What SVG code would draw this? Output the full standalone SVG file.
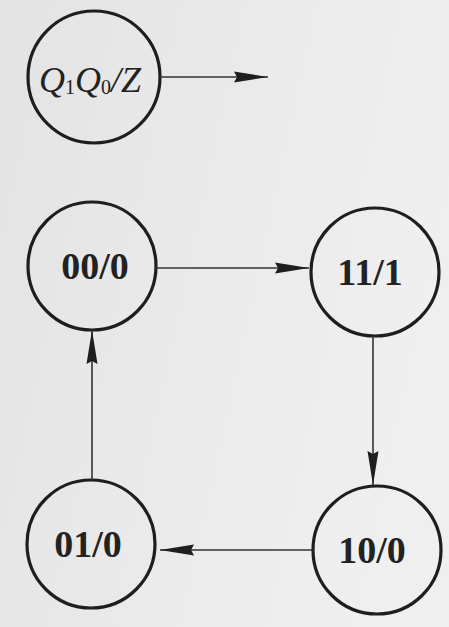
<svg xmlns="http://www.w3.org/2000/svg" width="449" height="627" viewBox="0 0 449 627">
<defs>
<linearGradient id="bg" x1="0" y1="0" x2="1" y2="0.3">
<stop offset="0" stop-color="#e3e3e3"/>
<stop offset="0.6" stop-color="#ebebeb"/>
<stop offset="1" stop-color="#efefef"/>
</linearGradient>
<marker id="arr" markerUnits="userSpaceOnUse" markerWidth="36" markerHeight="14" refX="34" refY="7" orient="auto">
<path d="M0,1.5 L34,7 L0,12.5 L3,7 Z" fill="#1e1e1e"/>
</marker>
<style>
.st{fill:none;stroke:#1e1e1e;stroke-width:3.2}
.lbl{font-family:"Liberation Serif","Times New Roman",serif;font-weight:bold;font-size:38px;fill:#222;text-anchor:middle}
.edge{stroke:#333;stroke-width:1.6;fill:none;marker-end:url(#arr)}
.leg{font-family:"Liberation Serif","Times New Roman",serif;font-style:italic;font-size:36px;fill:#222}
.sub{font-style:normal;font-size:20px}
</style>
</defs>
<rect x="0" y="0" width="449" height="627" fill="url(#bg)"/>
<g id="legend">
<circle class="st" cx="94" cy="77" r="66"/>
<text class="leg" x="39" y="92">Q<tspan class="sub" dy="2">1</tspan><tspan dy="-2">Q</tspan><tspan class="sub" dy="2">0</tspan><tspan dy="-2">/Z</tspan></text>
</g>
<g id="s00">
<circle class="st" cx="92" cy="266" r="64"/>
<text class="lbl" x="95" y="279">00/0</text>
</g>
<g id="s11">
<circle class="st" cx="375" cy="272" r="64"/>
<text class="lbl" x="370" y="285">11/1</text>
</g>
<g id="s10">
<circle class="st" cx="377" cy="550" r="64"/>
<text class="lbl" x="372" y="563">10/0</text>
</g>
<g id="s01">
<circle class="st" cx="91" cy="544" r="64"/>
<text class="lbl" x="88" y="557">01/0</text>
</g>
<g id="connectors">
<line class="edge" x1="160" y1="77" x2="268" y2="77"/>
<line class="edge" x1="156" y1="268" x2="309" y2="268"/>
<line class="edge" x1="373" y1="336" x2="373" y2="485"/>
<line class="edge" x1="313" y1="550" x2="160" y2="550"/>
<line class="edge" x1="92" y1="480" x2="92" y2="330"/>
</g>
</svg>
